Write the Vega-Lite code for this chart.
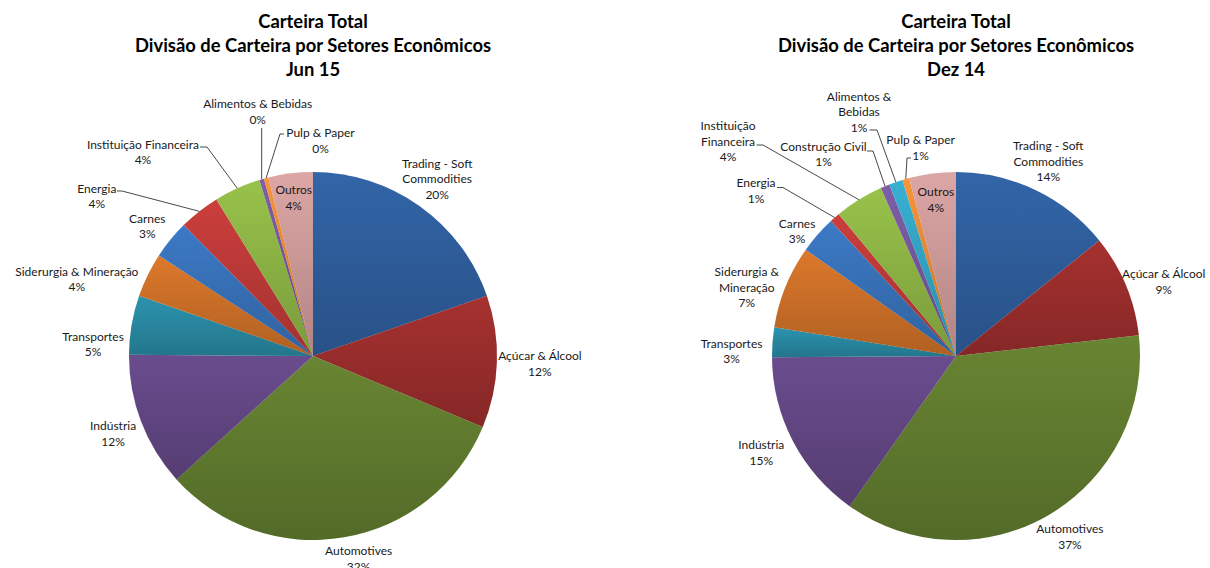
{
  "$schema": "https://vega.github.io/schema/vega-lite/v6.json",
  "padding": {"top": 12, "left": 0, "right": 0, "bottom": 0},
  "background": "white",
  "spacing": 80,
  "bounds": "flush",
  "config": {
    "view": {"stroke": null},
    "text": {"font": "Lato", "fontSize": 12, "lineHeight": 15.5, "color": "#1a1a1a", "lineBreak": "\n", "baseline": "middle", "align": "center"},
    "title": {"font": "Lato", "fontSize": 18.4, "fontWeight": "bold", "lineHeight": 24, "color": "#000000", "anchor": "middle", "offset": 4}
  },
  "resolve": {"scale": {"color": "independent", "x": "independent", "y": "independent"}},
  "datasets": {
    "jun": [
      {"order": 1, "sector": "Trading - Soft Commodities", "label": "Trading - Soft\nCommodities", "value": 0.197},
      {"order": 2, "sector": "Açúcar & Álcool", "label": "Açúcar & Álcool", "value": 0.116},
      {"order": 3, "sector": "Automotives", "label": "Automotives", "value": 0.320},
      {"order": 4, "sector": "Indústria", "label": "Indústria", "value": 0.118},
      {"order": 5, "sector": "Transportes", "label": "Transportes", "value": 0.052},
      {"order": 6, "sector": "Siderurgia & Mineração", "label": "Siderurgia & Mineração", "value": 0.039},
      {"order": 7, "sector": "Carnes", "label": "Carnes", "value": 0.034},
      {"order": 8, "sector": "Energia", "label": "Energia", "value": 0.036},
      {"order": 9, "sector": "Instituição Financeira", "label": "Instituição Financeira", "value": 0.041},
      {"order": 10, "sector": "Alimentos & Bebidas", "label": "Alimentos & Bebidas", "value": 0.004},
      {"order": 11, "sector": "Pulp & Paper", "label": "Pulp & Paper", "value": 0.004},
      {"order": 12, "sector": "Outros", "label": "Outros", "value": 0.039}
    ],
    "dez": [
      {"order": 1, "sector": "Trading - Soft Commodities", "label": "Trading - Soft\nCommodities", "value": 0.142},
      {"order": 2, "sector": "Açúcar & Álcool", "label": "Açúcar & Álcool", "value": 0.090},
      {"order": 3, "sector": "Automotives", "label": "Automotives", "value": 0.366},
      {"order": 4, "sector": "Indústria", "label": "Indústria", "value": 0.151},
      {"order": 5, "sector": "Transportes", "label": "Transportes", "value": 0.026},
      {"order": 6, "sector": "Siderurgia & Mineração", "label": "Siderurgia &\nMineração", "value": 0.073},
      {"order": 7, "sector": "Carnes", "label": "Carnes", "value": 0.033},
      {"order": 8, "sector": "Energia", "label": "Energia", "value": 0.009},
      {"order": 9, "sector": "Instituição Financeira", "label": "Instituição\nFinanceira", "value": 0.043},
      {"order": 10, "sector": "Construção Civil", "label": "Construção Civil", "value": 0.008},
      {"order": 11, "sector": "Alimentos & Bebidas", "label": "Alimentos &\nBebidas", "value": 0.012},
      {"order": 12, "sector": "Pulp & Paper", "label": "Pulp & Paper", "value": 0.006},
      {"order": 13, "sector": "Outros", "label": "Outros", "value": 0.041}
    ]
  },
  "hconcat": [
    {
      "width": 626,
      "height": 546,
      "title": {"text": ["Carteira Total", "Divisão de Carteira por Setores Econômicos", "Jun 15"]},
      "data": {"name": "jun"},
      "transform": [
        {"stack": "value", "groupby": [], "sort": [{"field": "order", "order": "ascending"}], "as": ["v0", "v1"]},
        {"calculate": "(datum.v0 + datum.v1) / 2", "as": "mid"},
        {"calculate": "datum.label + '\\n' + format(datum.value, '.0%')", "as": "txt"}
      ],
      "layer": [
        {
          "mark": {"type": "arc", "radius": 184},
          "encoding": {
            "theta": {"field": "v0", "type": "quantitative", "stack": null, "scale": {"domain": [0, 1], "range": [0, 6.283185307179586], "nice": false, "zero": false}},
            "theta2": {"field": "v1"},
            "color": {"field": "sector", "type": "nominal", "legend": null, "sort": null,
              "scale": {"domain": ["Trading - Soft Commodities", "Açúcar & Álcool", "Automotives", "Indústria", "Transportes", "Siderurgia & Mineração", "Carnes", "Energia", "Instituição Financeira", "Alimentos & Bebidas", "Pulp & Paper", "Outros"],
                "range": ["#3265A8", "#A63130", "#688532", "#6A4C8E", "#2C93AE", "#DC782B", "#3C7AC6", "#CB3E3C", "#98C24A", "#7D5EA8", "#F8943A", "#DCA6A5"]}}
          }
        },
        {
          "mark": {"type": "arc", "radius": 184, "fill": {"gradient": "linear", "x1": 0, "y1": 0, "x2": 0, "y2": 1, "stops": [{"offset": 0, "color": "rgba(0,0,0,0)"}, {"offset": 1, "color": "rgba(0,0,0,0.2)"}]}},
          "encoding": {
            "theta": {"field": "v0", "type": "quantitative", "stack": null, "scale": {"domain": [0, 1], "range": [0, 6.283185307179586], "nice": false, "zero": false}},
            "theta2": {"field": "v1"}
          }
        },
        {
          "transform": [
            {"filter": {"field": "sector", "oneOf": ["Energia", "Instituição Financeira", "Alimentos & Bebidas", "Pulp & Paper"]}},
            {"calculate": "184 * sin(2 * PI * datum.mid)", "as": "x0"},
            {"calculate": "-184 * cos(2 * PI * datum.mid)", "as": "y0"},
            {"calculate": "datum.sector === 'Energia' ? -191 : datum.sector === 'Instituição Financeira' ? -106 : datum.sector === 'Alimentos & Bebidas' ? -51.3 : -33", "as": "ex"},
            {"calculate": "datum.sector === 'Energia' ? -165 : datum.sector === 'Instituição Financeira' ? -209 : datum.sector === 'Alimentos & Bebidas' ? -228 : -222", "as": "ey"}
          ],
          "mark": {"type": "rule", "color": "#1a1a1a", "strokeWidth": 0.8},
          "encoding": {
            "x": {"field": "x0", "type": "quantitative", "axis": null, "scale": {"domain": [-313, 313], "nice": false, "zero": false}},
            "y": {"field": "y0", "type": "quantitative", "axis": null, "scale": {"domain": [-273, 273], "nice": false, "zero": false, "reverse": true}},
            "x2": {"field": "ex"},
            "y2": {"field": "ey"}
          }
        },
        {
          "transform": [
            {"filter": {"field": "sector", "oneOf": ["Energia", "Instituição Financeira", "Pulp & Paper"]}},
            {"calculate": "datum.sector === 'Energia' ? -191 : datum.sector === 'Instituição Financeira' ? -106 : -33", "as": "ex"},
            {"calculate": "datum.sector === 'Energia' ? -196 : datum.sector === 'Instituição Financeira' ? -113 : -29", "as": "tx"},
            {"calculate": "datum.sector === 'Energia' ? -165 : datum.sector === 'Instituição Financeira' ? -209 : -222", "as": "ey"}
          ],
          "mark": {"type": "rule", "color": "#1a1a1a", "strokeWidth": 0.8},
          "encoding": {
            "x": {"field": "ex", "type": "quantitative", "axis": null, "scale": {"domain": [-313, 313], "nice": false, "zero": false}},
            "x2": {"field": "tx"},
            "y": {"field": "ey", "type": "quantitative", "axis": null, "scale": {"domain": [-273, 273], "nice": false, "zero": false, "reverse": true}}
          }
        },
        {"transform": [{"filter": {"field": "sector", "equal": "Trading - Soft Commodities"}}], "mark": {"type": "text", "radius": 214, "dy": -18}, "encoding": {"theta": {"field": "mid", "type": "quantitative", "stack": null, "scale": {"domain": [0, 1], "range": [0, 6.283185307179586], "nice": false, "zero": false}}, "text": {"field": "txt", "type": "nominal"}}},
        {"transform": [{"filter": {"field": "sector", "equal": "Indústria"}}], "mark": {"type": "text", "radius": 214, "dy": -6}, "encoding": {"theta": {"field": "mid", "type": "quantitative", "stack": null, "scale": {"domain": [0, 1], "range": [0, 6.283185307179586], "nice": false, "zero": false}}, "text": {"field": "txt", "type": "nominal"}}},
        {"transform": [{"filter": {"field": "sector", "equal": "Carnes"}}], "mark": {"type": "text", "radius": 214, "dy": -2}, "encoding": {"theta": {"field": "mid", "type": "quantitative", "stack": null, "scale": {"domain": [0, 1], "range": [0, 6.283185307179586], "nice": false, "zero": false}}, "text": {"field": "txt", "type": "nominal"}}},
        {"transform": [{"filter": {"field": "sector", "equal": "Açúcar & Álcool"}}], "mark": {"type": "text", "radius": 227, "dy": -7}, "encoding": {"theta": {"field": "mid", "type": "quantitative", "stack": null, "scale": {"domain": [0, 1], "range": [0, 6.283185307179586], "nice": false, "zero": false}}, "text": {"field": "txt", "type": "nominal"}}},
        {"transform": [{"filter": {"field": "sector", "equal": "Automotives"}}], "mark": {"type": "text", "radius": 205, "dx": 11, "dy": -7}, "encoding": {"theta": {"field": "mid", "type": "quantitative", "stack": null, "scale": {"domain": [0, 1], "range": [0, 6.283185307179586], "nice": false, "zero": false}}, "text": {"field": "txt", "type": "nominal"}}},
        {"transform": [{"filter": {"field": "sector", "equal": "Transportes"}}], "mark": {"type": "text", "radius": 214, "dx": -9, "dy": 17}, "encoding": {"theta": {"field": "mid", "type": "quantitative", "stack": null, "scale": {"domain": [0, 1], "range": [0, 6.283185307179586], "nice": false, "zero": false}}, "text": {"field": "txt", "type": "nominal"}}},
        {"transform": [{"filter": {"field": "sector", "equal": "Siderurgia & Mineração"}}], "mark": {"type": "text", "radius": 214, "dx": -44, "dy": 10}, "encoding": {"theta": {"field": "mid", "type": "quantitative", "stack": null, "scale": {"domain": [0, 1], "range": [0, 6.283185307179586], "nice": false, "zero": false}}, "text": {"field": "txt", "type": "nominal"}}},
        {"transform": [{"filter": {"field": "sector", "equal": "Energia"}}], "mark": {"type": "text", "radius": 214, "dx": -84, "dy": 1}, "encoding": {"theta": {"field": "mid", "type": "quantitative", "stack": null, "scale": {"domain": [0, 1], "range": [0, 6.283185307179586], "nice": false, "zero": false}}, "text": {"field": "txt", "type": "nominal"}}},
        {"transform": [{"filter": {"field": "sector", "equal": "Instituição Financeira"}}], "mark": {"type": "text", "radius": 214, "dx": -82, "dy": -16}, "encoding": {"theta": {"field": "mid", "type": "quantitative", "stack": null, "scale": {"domain": [0, 1], "range": [0, 6.283185307179586], "nice": false, "zero": false}}, "text": {"field": "txt", "type": "nominal"}}},
        {"transform": [{"filter": {"field": "sector", "equal": "Alimentos & Bebidas"}}], "mark": {"type": "text", "radius": 252, "dx": 15, "dy": -10}, "encoding": {"theta": {"field": "mid", "type": "quantitative", "stack": null, "scale": {"domain": [0, 1], "range": [0, 6.283185307179586], "nice": false, "zero": false}}, "text": {"field": "txt", "type": "nominal"}}},
        {"transform": [{"filter": {"field": "sector", "equal": "Pulp & Paper"}}], "mark": {"type": "text", "radius": 214, "dx": 62, "dy": -16}, "encoding": {"theta": {"field": "mid", "type": "quantitative", "stack": null, "scale": {"domain": [0, 1], "range": [0, 6.283185307179586], "nice": false, "zero": false}}, "text": {"field": "txt", "type": "nominal"}}},
        {"transform": [{"filter": {"field": "sector", "equal": "Outros"}}], "mark": {"type": "text", "radius": 158, "dy": -9}, "encoding": {"theta": {"field": "mid", "type": "quantitative", "stack": null, "scale": {"domain": [0, 1], "range": [0, 6.283185307179586], "nice": false, "zero": false}}, "text": {"field": "txt", "type": "nominal"}}}
      ]
    },
    {
      "width": 500,
      "height": 546,
      "title": {"text": ["Carteira Total", "Divisão de Carteira por Setores Econômicos", "Dez 14"]},
      "data": {"name": "dez"},
      "transform": [
        {"stack": "value", "groupby": [], "sort": [{"field": "order", "order": "ascending"}], "as": ["v0", "v1"]},
        {"calculate": "(datum.v0 + datum.v1) / 2", "as": "mid"},
        {"calculate": "datum.label + '\\n' + format(datum.value, '.0%')", "as": "txt"}
      ],
      "layer": [
        {
          "mark": {"type": "arc", "radius": 184},
          "encoding": {
            "theta": {"field": "v0", "type": "quantitative", "stack": null, "scale": {"domain": [0, 1], "range": [0, 6.283185307179586], "nice": false, "zero": false}},
            "theta2": {"field": "v1"},
            "color": {"field": "sector", "type": "nominal", "legend": null, "sort": null,
              "scale": {"domain": ["Trading - Soft Commodities", "Açúcar & Álcool", "Automotives", "Indústria", "Transportes", "Siderurgia & Mineração", "Carnes", "Energia", "Instituição Financeira", "Construção Civil", "Alimentos & Bebidas", "Pulp & Paper", "Outros"],
                "range": ["#3265A8", "#A63130", "#688532", "#6A4C8E", "#2C93AE", "#DC782B", "#3C7AC6", "#CB3E3C", "#98C24A", "#7D5EA8", "#38B0D3", "#F8943A", "#DCA6A5"]}}
          }
        },
        {
          "mark": {"type": "arc", "radius": 184, "fill": {"gradient": "linear", "x1": 0, "y1": 0, "x2": 0, "y2": 1, "stops": [{"offset": 0, "color": "rgba(0,0,0,0)"}, {"offset": 1, "color": "rgba(0,0,0,0.2)"}]}},
          "encoding": {
            "theta": {"field": "v0", "type": "quantitative", "stack": null, "scale": {"domain": [0, 1], "range": [0, 6.283185307179586], "nice": false, "zero": false}},
            "theta2": {"field": "v1"}
          }
        },
        {
          "transform": [
            {"filter": {"field": "sector", "oneOf": ["Energia", "Instituição Financeira", "Construção Civil", "Alimentos & Bebidas", "Pulp & Paper"]}},
            {"calculate": "184 * sin(2 * PI * datum.mid)", "as": "x0"},
            {"calculate": "-184 * cos(2 * PI * datum.mid)", "as": "y0"},
            {"calculate": "datum.sector === 'Energia' ? -173 : datum.sector === 'Instituição Financeira' ? -193 : datum.sector === 'Construção Civil' ? -83 : datum.sector === 'Alimentos & Bebidas' ? -79 : -49", "as": "ex"},
            {"calculate": "datum.sector === 'Energia' ? -168.5 : datum.sector === 'Instituição Financeira' ? -211 : datum.sector === 'Construção Civil' ? -205 : datum.sector === 'Alimentos & Bebidas' ? -226 : -198", "as": "ey"}
          ],
          "mark": {"type": "rule", "color": "#1a1a1a", "strokeWidth": 0.8},
          "encoding": {
            "x": {"field": "x0", "type": "quantitative", "axis": null, "scale": {"domain": [-250, 250], "nice": false, "zero": false}},
            "y": {"field": "y0", "type": "quantitative", "axis": null, "scale": {"domain": [-273, 273], "nice": false, "zero": false, "reverse": true}},
            "x2": {"field": "ex"},
            "y2": {"field": "ey"}
          }
        },
        {
          "transform": [
            {"filter": {"field": "sector", "oneOf": ["Energia", "Instituição Financeira", "Construção Civil", "Alimentos & Bebidas", "Pulp & Paper"]}},
            {"calculate": "datum.sector === 'Energia' ? -173 : datum.sector === 'Instituição Financeira' ? -193 : datum.sector === 'Construção Civil' ? -83 : datum.sector === 'Alimentos & Bebidas' ? -79 : -49", "as": "ex"},
            {"calculate": "datum.sector === 'Energia' ? -179 : datum.sector === 'Instituição Financeira' ? -199.5 : datum.sector === 'Construção Civil' ? -89 : datum.sector === 'Alimentos & Bebidas' ? -86.5 : -45", "as": "tx"},
            {"calculate": "datum.sector === 'Energia' ? -168.5 : datum.sector === 'Instituição Financeira' ? -211 : datum.sector === 'Construção Civil' ? -205 : datum.sector === 'Alimentos & Bebidas' ? -226 : -198", "as": "ey"}
          ],
          "mark": {"type": "rule", "color": "#1a1a1a", "strokeWidth": 0.8},
          "encoding": {
            "x": {"field": "ex", "type": "quantitative", "axis": null, "scale": {"domain": [-250, 250], "nice": false, "zero": false}},
            "x2": {"field": "tx"},
            "y": {"field": "ey", "type": "quantitative", "axis": null, "scale": {"domain": [-273, 273], "nice": false, "zero": false, "reverse": true}}
          }
        },
        {"transform": [{"filter": {"field": "sector", "equal": "Trading - Soft Commodities"}}], "mark": {"type": "text", "radius": 214, "dy": -16.5}, "encoding": {"theta": {"field": "mid", "type": "quantitative", "stack": null, "scale": {"domain": [0, 1], "range": [0, 6.283185307179586], "nice": false, "zero": false}}, "text": {"field": "txt", "type": "nominal"}}},
        {"transform": [{"filter": {"field": "sector", "equal": "Automotives"}}], "mark": {"type": "text", "radius": 214, "dx": 5, "dy": -11}, "encoding": {"theta": {"field": "mid", "type": "quantitative", "stack": null, "scale": {"domain": [0, 1], "range": [0, 6.283185307179586], "nice": false, "zero": false}}, "text": {"field": "txt", "type": "nominal"}}},
        {"transform": [{"filter": {"field": "sector", "equal": "Indústria"}}], "mark": {"type": "text", "radius": 214, "dx": -5, "dy": -9.5}, "encoding": {"theta": {"field": "mid", "type": "quantitative", "stack": null, "scale": {"domain": [0, 1], "range": [0, 6.283185307179586], "nice": false, "zero": false}}, "text": {"field": "txt", "type": "nominal"}}},
        {"transform": [{"filter": {"field": "sector", "equal": "Açúcar & Álcool"}}], "mark": {"type": "text", "radius": 224, "dx": 1, "dy": 4.5}, "encoding": {"theta": {"field": "mid", "type": "quantitative", "stack": null, "scale": {"domain": [0, 1], "range": [0, 6.283185307179586], "nice": false, "zero": false}}, "text": {"field": "txt", "type": "nominal"}}},
        {"transform": [{"filter": {"field": "sector", "equal": "Transportes"}}], "mark": {"type": "text", "radius": 214, "dx": -11, "dy": 4}, "encoding": {"theta": {"field": "mid", "type": "quantitative", "stack": null, "scale": {"domain": [0, 1], "range": [0, 6.283185307179586], "nice": false, "zero": false}}, "text": {"field": "txt", "type": "nominal"}}},
        {"transform": [{"filter": {"field": "sector", "equal": "Siderurgia & Mineração"}}], "mark": {"type": "text", "radius": 214, "dx": -11, "dy": -3}, "encoding": {"theta": {"field": "mid", "type": "quantitative", "stack": null, "scale": {"domain": [0, 1], "range": [0, 6.283185307179586], "nice": false, "zero": false}}, "text": {"field": "txt", "type": "nominal"}}},
        {"transform": [{"filter": {"field": "sector", "equal": "Carnes"}}], "mark": {"type": "text", "radius": 202, "dx": -7, "dy": 1}, "encoding": {"theta": {"field": "mid", "type": "quantitative", "stack": null, "scale": {"domain": [0, 1], "range": [0, 6.283185307179586], "nice": false, "zero": false}}, "text": {"field": "txt", "type": "nominal"}}},
        {"transform": [{"filter": {"field": "sector", "equal": "Energia"}}], "mark": {"type": "text", "radius": 214, "dx": -59, "dy": -12}, "encoding": {"theta": {"field": "mid", "type": "quantitative", "stack": null, "scale": {"domain": [0, 1], "range": [0, 6.283185307179586], "nice": false, "zero": false}}, "text": {"field": "txt", "type": "nominal"}}},
        {"transform": [{"filter": {"field": "sector", "equal": "Instituição Financeira"}}], "mark": {"type": "text", "radius": 214, "dx": -115, "dy": -48}, "encoding": {"theta": {"field": "mid", "type": "quantitative", "stack": null, "scale": {"domain": [0, 1], "range": [0, 6.283185307179586], "nice": false, "zero": false}}, "text": {"field": "txt", "type": "nominal"}}},
        {"transform": [{"filter": {"field": "sector", "equal": "Construção Civil"}}], "mark": {"type": "text", "radius": 214, "dx": -50, "dy": -12}, "encoding": {"theta": {"field": "mid", "type": "quantitative", "stack": null, "scale": {"domain": [0, 1], "range": [0, 6.283185307179586], "nice": false, "zero": false}}, "text": {"field": "txt", "type": "nominal"}}},
        {"transform": [{"filter": {"field": "sector", "equal": "Alimentos & Bebidas"}}], "mark": {"type": "text", "radius": 214, "dx": -27, "dy": -57}, "encoding": {"theta": {"field": "mid", "type": "quantitative", "stack": null, "scale": {"domain": [0, 1], "range": [0, 6.283185307179586], "nice": false, "zero": false}}, "text": {"field": "txt", "type": "nominal"}}},
        {"transform": [{"filter": {"field": "sector", "equal": "Pulp & Paper"}}], "mark": {"type": "text", "radius": 214, "dx": 23, "dy": -10}, "encoding": {"theta": {"field": "mid", "type": "quantitative", "stack": null, "scale": {"domain": [0, 1], "range": [0, 6.283185307179586], "nice": false, "zero": false}}, "text": {"field": "txt", "type": "nominal"}}},
        {"transform": [{"filter": {"field": "sector", "equal": "Outros"}}], "mark": {"type": "text", "radius": 157, "dy": -8}, "encoding": {"theta": {"field": "mid", "type": "quantitative", "stack": null, "scale": {"domain": [0, 1], "range": [0, 6.283185307179586], "nice": false, "zero": false}}, "text": {"field": "txt", "type": "nominal"}}}
      ]
    }
  ]
}
